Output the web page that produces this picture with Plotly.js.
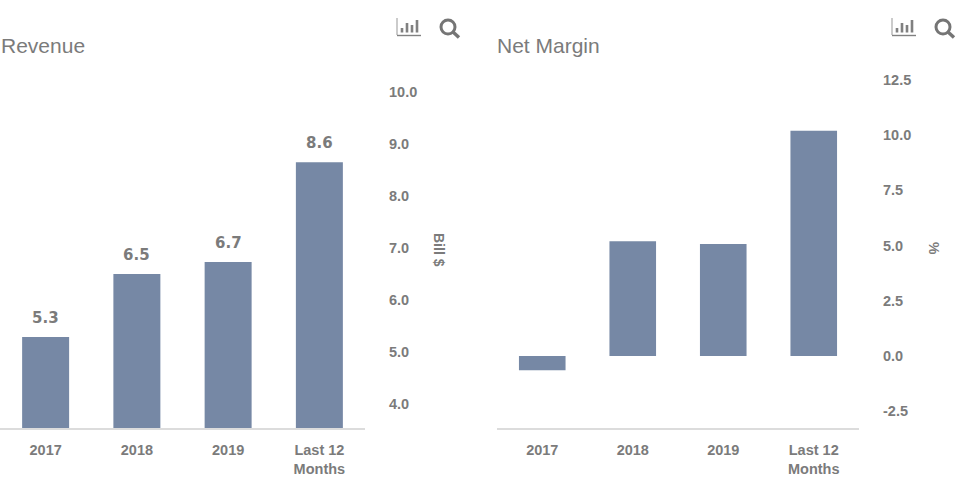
<!DOCTYPE html>
<html>
<head>
<meta charset="utf-8">
<script src="https://cdn.plot.ly/plotly-3.0.1.min.js"></script>
<style>html,body{margin:0;padding:0;background:#fff;overflow:hidden}</style>
</head>
<body>
<div id="chart" style="width:959px;height:491px"></div>
<script>
const categories = ["2017", "2018", "2019", "Last 12<br>Months"];
const revenue = [5.29, 6.5, 6.73, 8.65];
const revenueLabels = ["5.3", "6.5", "6.7", "8.6"];
const netMargin = [-0.65, 5.2, 5.07, 10.2];
const revenueTicks = [4, 5, 6, 7, 8, 9, 10];
const revenueTickText = ["4.0", "5.0", "6.0", "7.0", "8.0", "9.0", "10.0"];
const marginTicks = [-2.5, 0, 2.5, 5, 7.5, 10, 12.5];
const marginTickText = ["-2.5", "0.0", "2.5", "5.0", "7.5", "10.0", "12.5"];

const W = 959, H = 491;
const GREY = "#7b7b7b", BAR = "#7688a5";
const px = x => x / W, py = y => 1 - y / H;
const SANS = "Liberation Sans, Arial, sans-serif";
const tickFont = {family: SANS, size: 14.5, color: GREY, weight: 700};

const traces = [
  {type: "bar", x: categories, y: revenue, xaxis: "x", yaxis: "y", marker: {color: BAR}, hoverinfo: "x+y"},
  {type: "bar", x: categories, y: netMargin, xaxis: "x2", yaxis: "y2", marker: {color: BAR}, hoverinfo: "x+y"}
];

function xAxis(anchor, left, right) {
  return {anchor, domain: [px(left), px(right)], type: "category", categoryorder: "array", categoryarray: categories,
    showgrid: false, zeroline: false,
    showline: true, linecolor: "#dcdcdc", linewidth: 1.5, ticks: "", tickfont: tickFont,
    ticklabelstandoff: 8, fixedrange: true};
}
function yAxis(anchor, range, vals, text) {
  return {anchor, side: "right", domain: [py(428), py(72)], range, tickvals: vals, ticktext: text,
    showgrid: false, zeroline: false, showline: false, ticks: "", tickfont: tickFont,
    ticklabelstandoff: 23, fixedrange: true};
}
const inv1 = p => 4 + (404 - p) / 52;
const inv2 = p => (356 - p) / 22.08;

function chartIcon(x0) {
  const line = (a, b, c, d, w, col) => ({type: "line", xref: "paper", yref: "paper",
    x0: px(x0 + a), y0: py(b), x1: px(x0 + c), y1: py(d), line: {color: col, width: w}});
  return [line(0, 18, 0, 35, 1.2, "#a8a8a8"), line(0, 35.5, 24, 35.5, 1.4, "#808080"),
    line(5, 28, 5, 32.5, 2.6, "#808080"), line(10, 23, 10, 32.5, 2.6, "#808080"),
    line(15, 25, 15, 32.5, 2.6, "#808080"), line(20, 20, 20, 32.5, 2.6, "#808080")];
}
function searchIcon(x0) {
  return [
    {type: "circle", xref: "paper", yref: "paper", x0: px(x0), x1: px(x0 + 14), y0: py(34), y1: py(20),
     line: {color: "#757575", width: 3}},
    {type: "line", xref: "paper", yref: "paper", x0: px(x0 + 12), y0: py(32), x1: px(x0 + 18), y1: py(37.5),
     line: {color: "#757575", width: 3.4}}
  ];
}
const paperText = (text, x, y, size, extra) => Object.assign({text, xref: "paper", yref: "paper",
  x: px(x), y: py(y), xanchor: "left", yanchor: "middle", showarrow: false,
  font: {family: SANS, size, color: GREY}}, extra);

const valueLabels = categories.map((c, i) => ({
  text: revenueLabels[i], xref: "x", yref: "y", x: i, y: revenue[i], yshift: 8,
  xanchor: "center", yanchor: "bottom", showarrow: false,
  font: {family: "DejaVu Sans, sans-serif", size: 15, color: GREY, weight: 700}
}));

const layout = {
  width: W, height: H, margin: {l: 0, r: 0, t: 0, b: 0},
  paper_bgcolor: "#fff", plot_bgcolor: "#fff", showlegend: false,
  bargap: 0.485,
  xaxis: xAxis("y", 0, 365),
  yaxis: yAxis("x", [inv1(428), inv1(72)], revenueTicks, revenueTickText),
  xaxis2: xAxis("y2", 497, 859),
  yaxis2: yAxis("x2", [inv2(428), inv2(72)], marginTicks, marginTickText),
  annotations: [
    paperText("Revenue", -1, 45, 21),
    paperText("Net Margin", 495, 45, 21),
    paperText("Bill $", 439, 250, 14, {xanchor: "center", textangle: 90, font: {family: SANS, size: 14, color: GREY, weight: 700}}),
    paperText("%", 934, 248, 14, {xanchor: "center", textangle: 90, font: {family: SANS, size: 14, color: GREY, weight: 700}}),
    ...valueLabels
  ],
  shapes: [...chartIcon(397), ...searchIcon(441), ...chartIcon(892), ...searchIcon(936)]
};

Plotly.newPlot("chart", traces, layout, {displayModeBar: false, responsive: false});
</script>
</body>
</html>
